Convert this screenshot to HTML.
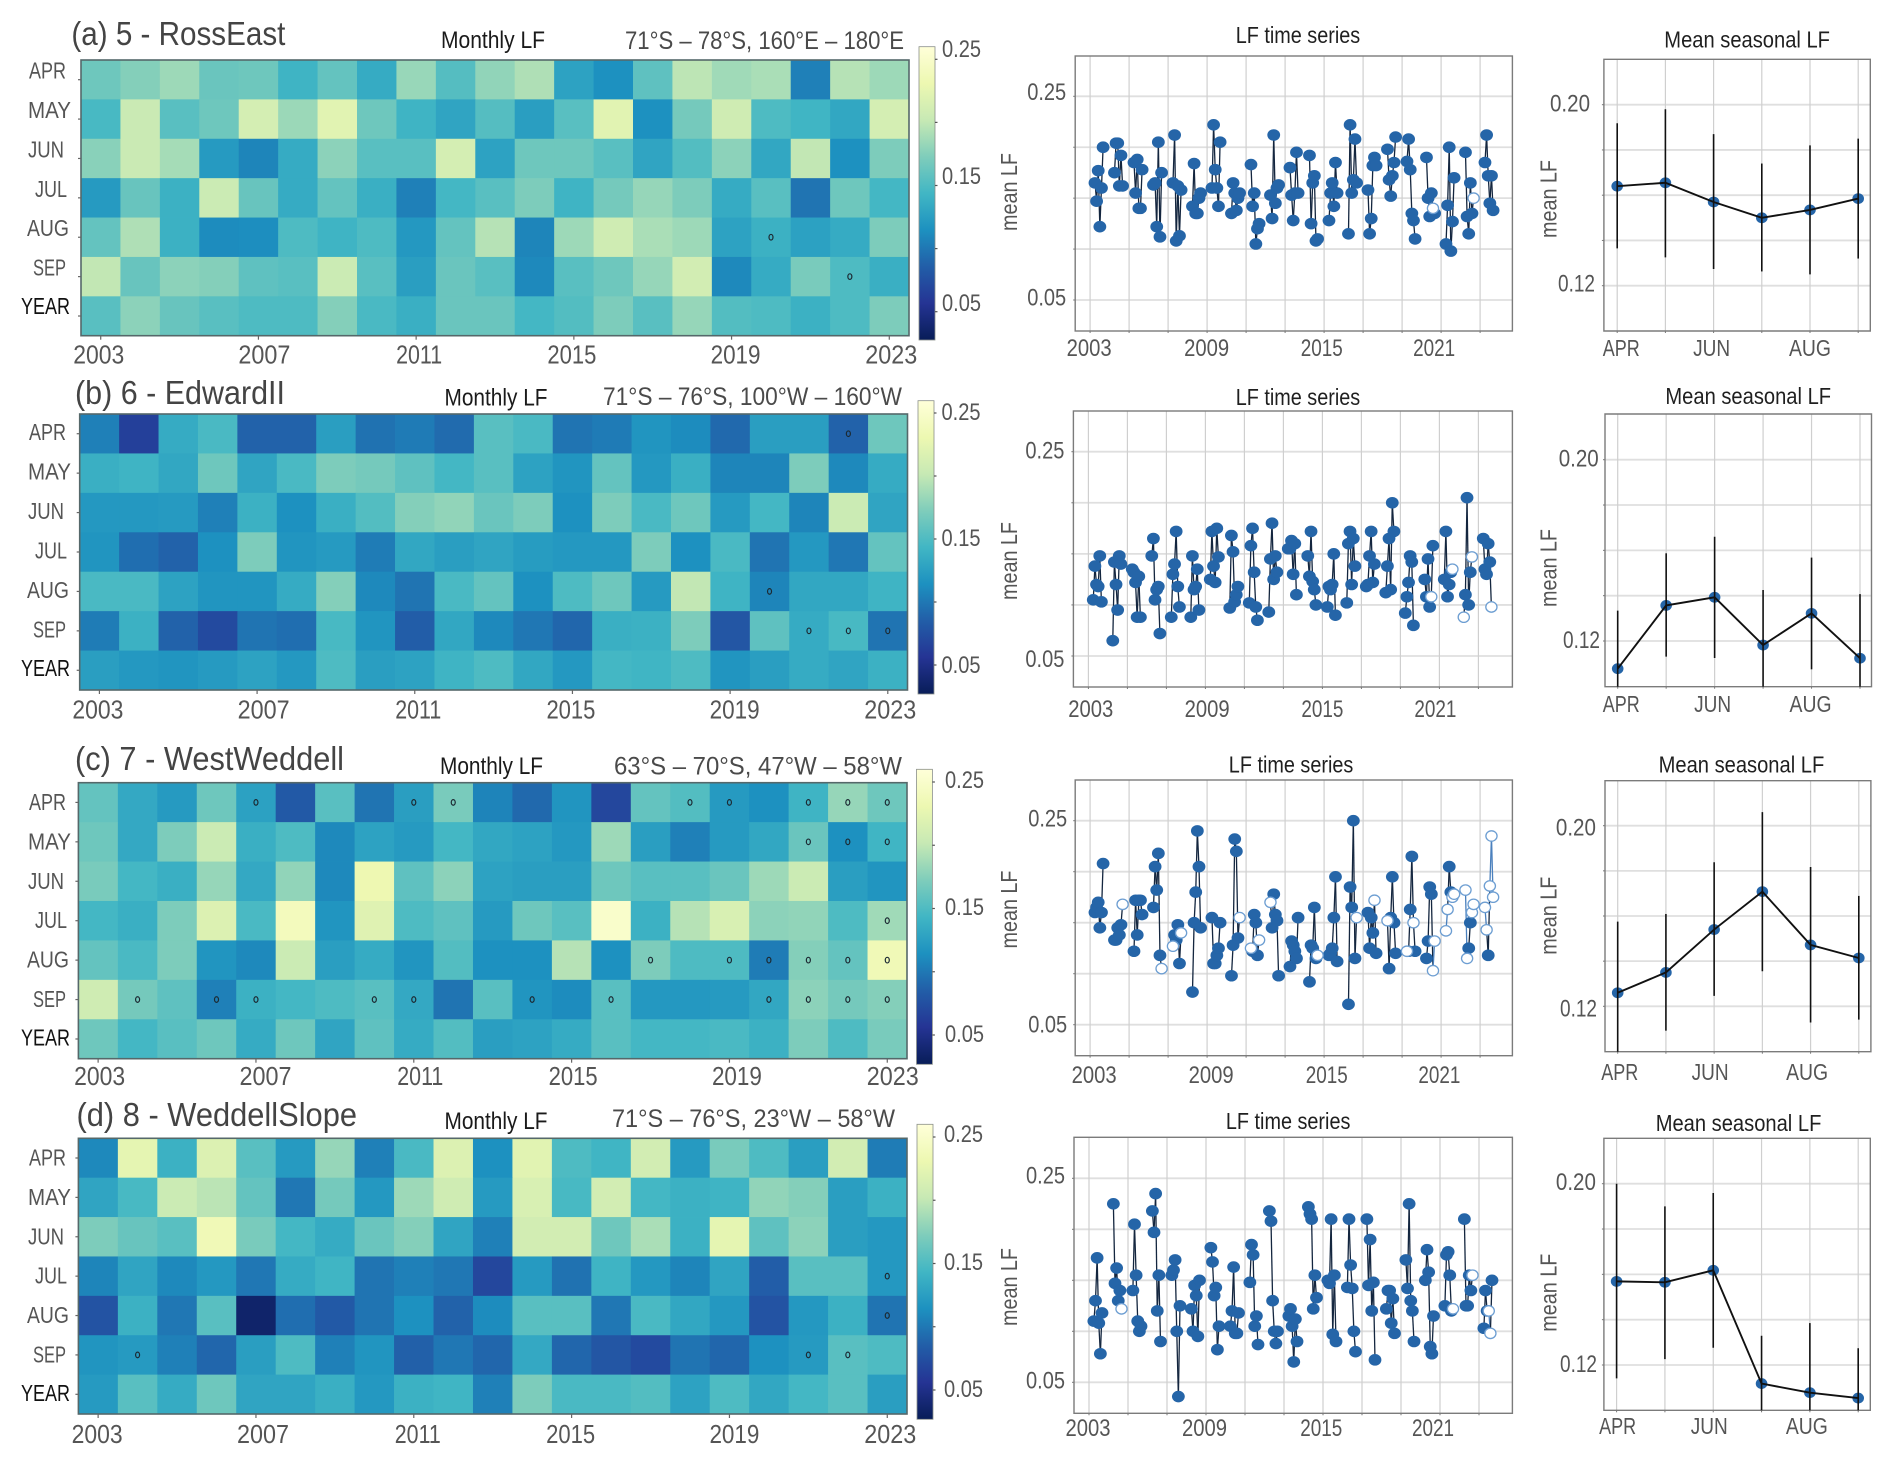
<!DOCTYPE html>
<html lang="en">
<head>
<meta charset="utf-8">
<title>Monthly LF by region</title>
<style>
html,body{margin:0;padding:0;background:#fff;}
svg{display:block;font-family:"Liberation Sans",Arial,sans-serif;}
.pt{font-size:33px;fill:#444;}
.mt{font-size:24px;fill:#1a1a1a;}
.rg{font-size:25px;fill:#4a4a4a;}
.tt{font-size:23px;fill:#1f1f1f;}
.yl{font-size:23px;fill:#555;text-anchor:middle;}
</style>
</head>
<body>
<svg id="fig" width="1892" height="1464" viewBox="0 0 1892 1464">
<defs>
<linearGradient id="cbGrad" x1="0" y1="1" x2="0" y2="0">
<stop offset="0" stop-color="#081d58"/><stop offset="0.125" stop-color="#253494"/>
<stop offset="0.25" stop-color="#225ea8"/><stop offset="0.375" stop-color="#1d91c0"/>
<stop offset="0.5" stop-color="#41b6c4"/><stop offset="0.625" stop-color="#7fcdbb"/>
<stop offset="0.75" stop-color="#c7e9b4"/><stop offset="0.875" stop-color="#edf8b1"/>
<stop offset="1" stop-color="#ffffd9"/>
</linearGradient>
</defs>
<g id="panel-a">
<text class="pt" x="71.4" y="45" textLength="214" lengthAdjust="spacingAndGlyphs">(a) 5 - RossEast</text>
<text class="mt" x="441" y="48" textLength="104" lengthAdjust="spacingAndGlyphs">Monthly LF</text>
<text class="rg" x="625" y="49" textLength="279" lengthAdjust="spacingAndGlyphs">71°S – 78°S, 160°E – 180°E</text>
<text class="tt" x="1235.7" y="43" textLength="124.5" lengthAdjust="spacingAndGlyphs">LF time series</text>
<text class="tt" x="1664.3" y="47.7" textLength="165.7" lengthAdjust="spacingAndGlyphs">Mean seasonal LF</text>
<text class="yl" transform="translate(1017 192) rotate(-90)" textLength="78" lengthAdjust="spacingAndGlyphs">mean LF</text>
<text class="yl" transform="translate(1556.7 199) rotate(-90)" textLength="78" lengthAdjust="spacingAndGlyphs">mean LF</text>
</g>
<g id="panel-b">
<text class="pt" x="75" y="404" textLength="210" lengthAdjust="spacingAndGlyphs">(b) 6 - EdwardII</text>
<text class="mt" x="444.5" y="405.7" textLength="103" lengthAdjust="spacingAndGlyphs">Monthly LF</text>
<text class="rg" x="603" y="405" textLength="299" lengthAdjust="spacingAndGlyphs">71°S – 76°S, 100°W – 160°W</text>
<text class="tt" x="1235.7" y="405" textLength="124.5" lengthAdjust="spacingAndGlyphs">LF time series</text>
<text class="tt" x="1665.4" y="404" textLength="165.7" lengthAdjust="spacingAndGlyphs">Mean seasonal LF</text>
<text class="yl" transform="translate(1017 561) rotate(-90)" textLength="78" lengthAdjust="spacingAndGlyphs">mean LF</text>
<text class="yl" transform="translate(1556.7 568) rotate(-90)" textLength="78" lengthAdjust="spacingAndGlyphs">mean LF</text>
</g>
<g id="panel-c">
<text class="pt" x="75" y="770" textLength="269" lengthAdjust="spacingAndGlyphs">(c) 7 - WestWeddell</text>
<text class="mt" x="440" y="774" textLength="103" lengthAdjust="spacingAndGlyphs">Monthly LF</text>
<text class="rg" x="614" y="774.7" textLength="288" lengthAdjust="spacingAndGlyphs">63°S – 70°S, 47°W – 58°W</text>
<text class="tt" x="1228.8" y="772.7" textLength="124.5" lengthAdjust="spacingAndGlyphs">LF time series</text>
<text class="tt" x="1658.6" y="772.7" textLength="165.7" lengthAdjust="spacingAndGlyphs">Mean seasonal LF</text>
<text class="yl" transform="translate(1017 909.5) rotate(-90)" textLength="78" lengthAdjust="spacingAndGlyphs">mean LF</text>
<text class="yl" transform="translate(1556.7 915.7) rotate(-90)" textLength="78" lengthAdjust="spacingAndGlyphs">mean LF</text>
</g>
<g id="panel-d">
<text class="pt" x="76.5" y="1126" textLength="280.5" lengthAdjust="spacingAndGlyphs">(d) 8 - WeddellSlope</text>
<text class="mt" x="444.5" y="1129" textLength="103" lengthAdjust="spacingAndGlyphs">Monthly LF</text>
<text class="rg" x="612" y="1127" textLength="283" lengthAdjust="spacingAndGlyphs">71°S – 76°S, 23°W – 58°W</text>
<text class="tt" x="1225.9" y="1129" textLength="124.5" lengthAdjust="spacingAndGlyphs">LF time series</text>
<text class="tt" x="1655.7" y="1131" textLength="165.7" lengthAdjust="spacingAndGlyphs">Mean seasonal LF</text>
<text class="yl" transform="translate(1017 1287) rotate(-90)" textLength="78" lengthAdjust="spacingAndGlyphs">mean LF</text>
<text class="yl" transform="translate(1556.7 1292.7) rotate(-90)" textLength="78" lengthAdjust="spacingAndGlyphs">mean LF</text>
</g>
</svg>
<script>
/* ---------- categories and tick labels ---------- */
const years = [2003,2004,2005,2006,2007,2008,2009,2010,2011,2012,2013,2014,2015,2016,2017,2018,2019,2020,2021,2022,2023];
const rowLabels = ['APR','MAY','JUN','JUL','AUG','SEP','YEAR'];
const heatYearTicks = [2003,2007,2011,2015,2019,2023];
const tsYearTicks = [2003,2009,2015,2021];
const seasonMonths = ['APR','MAY','JUN','JUL','AUG','SEP'];
const seasonLabels = ['APR','JUN','AUG'];
const cbTicks = [0.25,0.20,0.15,0.10,0.05];
const cbTickLabels = ['0.25','0.15','0.05'];
const tsGridValues = [0.05,0.10,0.15,0.20,0.25];
const tsTickLabels = ['0.25','0.05'];
const seasonGridValues = [0.12,0.14,0.16,0.18,0.20];
const seasonTickLabels = ['0.20','0.12'];

/* ---------- monthly LF values: rows APR..SEP then YEAR, columns 2003..2023 ---------- */
const lfA = [
[.165,.175,.185,.163,.165,.142,.160,.135,.183,.153,.180,.192,.128,.115,.158,.198,.186,.190,.105,.195,.185],
[.147,.204,.155,.165,.212,.184,.222,.165,.142,.130,.153,.125,.155,.222,.115,.168,.208,.150,.143,.132,.212],
[.177,.204,.188,.122,.108,.135,.178,.155,.155,.212,.128,.165,.165,.155,.130,.152,.178,.132,.200,.115,.172],
[.122,.162,.140,.205,.162,.135,.160,.138,.105,.145,.155,.172,.142,.168,.182,.172,.135,.155,.098,.165,.145],
[.160,.192,.140,.112,.113,.150,.142,.150,.120,.160,.195,.108,.185,.208,.190,.185,.128,.140,.127,.135,.172],
[.200,.162,.178,.175,.158,.155,.205,.155,.125,.163,.155,.110,.155,.165,.182,.210,.110,.135,.170,.150,.138],
[.155,.178,.162,.155,.150,.150,.175,.148,.138,.163,.163,.145,.152,.172,.155,.182,.152,.150,.140,.150,.172]];
const lfB = [
[.105,.065,.135,.148,.088,.088,.125,.097,.102,.093,.155,.148,.098,.102,.118,.112,.092,.125,.125,.088,.165],
[.138,.142,.132,.165,.130,.148,.172,.168,.158,.145,.155,.128,.118,.160,.120,.138,.108,.108,.172,.110,.135],
[.120,.120,.122,.105,.140,.115,.138,.152,.175,.180,.163,.172,.115,.172,.148,.165,.122,.145,.108,.205,.130],
[.118,.095,.088,.115,.172,.118,.122,.103,.132,.125,.130,.123,.120,.120,.172,.115,.148,.098,.120,.100,.160],
[.148,.148,.128,.118,.118,.135,.175,.110,.098,.148,.160,.115,.150,.165,.122,.200,.142,.108,.132,.132,.142],
[.103,.140,.088,.072,.098,.095,.147,.118,.085,.132,.110,.100,.090,.138,.140,.172,.080,.158,.135,.147,.098],
[.125,.120,.118,.122,.128,.120,.150,.125,.128,.142,.150,.132,.120,.145,.143,.150,.118,.125,.135,.130,.140]];
const lfC = [
[.160,.133,.122,.165,.127,.082,.155,.098,.125,.170,.107,.092,.118,.070,.160,.152,.122,.115,.142,.182,.165],
[.165,.133,.172,.205,.138,.150,.110,.128,.122,.145,.132,.128,.120,.185,.125,.105,.122,.132,.163,.115,.143],
[.170,.145,.138,.182,.133,.180,.110,.232,.158,.178,.128,.125,.125,.165,.155,.155,.163,.185,.205,.125,.118],
[.145,.138,.172,.218,.148,.240,.118,.220,.150,.158,.122,.165,.155,.250,.140,.195,.215,.178,.180,.150,.186],
[.160,.148,.172,.118,.110,.205,.125,.135,.118,.152,.115,.115,.195,.115,.172,.150,.150,.103,.175,.160,.235],
[.208,.168,.158,.105,.140,.145,.150,.155,.133,.098,.155,.118,.112,.155,.120,.120,.122,.132,.178,.168,.175],
[.165,.145,.155,.165,.135,.165,.130,.158,.135,.152,.125,.128,.135,.155,.145,.145,.148,.140,.172,.150,.170]];
const lfD = [
[.110,.225,.140,.218,.155,.122,.182,.105,.148,.218,.115,.222,.150,.143,.210,.122,.170,.150,.125,.210,.103],
[.130,.147,.205,.197,.160,.100,.168,.120,.185,.208,.122,.215,.147,.210,.145,.140,.142,.180,.175,.125,.140],
[.172,.162,.155,.235,.170,.145,.135,.163,.175,.130,.105,.210,.210,.165,.190,.140,.225,.158,.178,.125,.120],
[.108,.130,.110,.120,.100,.135,.143,.098,.105,.100,.070,.122,.097,.142,.120,.108,.130,.085,.155,.155,.120],
[.078,.140,.100,.155,.036,.095,.082,.098,.115,.088,.112,.155,.155,.100,.148,.132,.120,.078,.120,.140,.098],
[.118,.122,.105,.090,.125,.150,.105,.118,.087,.100,.090,.133,.090,.080,.072,.098,.090,.115,.122,.155,.150],
[.122,.155,.135,.165,.130,.130,.138,.120,.140,.143,.105,.172,.148,.148,.152,.128,.150,.132,.145,.155,.125]];

/* ---------- flagged cells: [row index, year index] ---------- */
const flagsA = [[4,17],[5,19]];
const flagsB = [[0,19],[4,17],[5,18],[5,19],[5,20]];
const flagsC = [[0,4],[0,8],[0,9],[0,15],[0,16],[0,18],[0,19],[0,20],[1,18],[1,19],[1,20],[3,20],[4,14],[4,16],[4,17],[4,18],[4,19],[4,20],[5,1],[5,3],[5,4],[5,7],[5,8],[5,11],[5,13],[5,17],[5,18],[5,19],[5,20]];
const flagsD = [[3,20],[4,20],[5,1],[5,18],[5,19]];

/* ---------- mean seasonal LF with error-bar limits (APR..SEP) ---------- */
const seasonMeanA = [.1640,.1655,.1570,.1500,.1535,.1585];
const seasonLowA  = [.1365,.1325,.1274,.1263,.1250,.1320];
const seasonHighA = [.1918,.1980,.1870,.1740,.1820,.1850];
const seasonMeanB = [.1078,.1357,.1393,.1182,.1322,.1124];
const seasonLowB  = [.0820,.1131,.1125,.0980,.1075,.0900];
const seasonHighB = [.1334,.1587,.1660,.1425,.1568,.1407];
const seasonMeanC = [.1260,.1350,.1540,.1708,.1472,.1414];
const seasonLowC  = [.0900,.1092,.1246,.1355,.1128,.1141];
const seasonHighC = [.1575,.1609,.1838,.2060,.1817,.1689];
const seasonMeanD = [.1569,.1565,.1618,.1118,.1078,.1054];
const seasonLowD  = [.1141,.1226,.1276,.0900,.0900,.0850];
const seasonHighD = [.2000,.1900,.1959,.1329,.1385,.1274];

/* ---------- colour map ---------- */
const cmap = ['#081d58','#253494','#225ea8','#1d91c0','#41b6c4','#7fcdbb','#c7e9b4','#edf8b1','#ffffd9'];
const vMin = 0.0275, vMax = 0.26;
function colorFor(v){
  let t = Math.max(0, Math.min(1, (v - vMin) / (vMax - vMin))) * (cmap.length - 1);
  const i = Math.min(cmap.length - 2, Math.floor(t)); t -= i;
  const c0 = parseInt(cmap[i].slice(1), 16), c1 = parseInt(cmap[i + 1].slice(1), 16);
  const ch = s => Math.round(((c0 >> s) & 255) * (1 - t) + ((c1 >> s) & 255) * t);
  return 'rgb(' + ch(16) + ',' + ch(8) + ',' + ch(0) + ')';
}

/* ---------- layout of each panel (pixels of the page, not data) ---------- */
const panels = [
 {id:'a', lf:lfA, flags:flagsA, sm:seasonMeanA, sl:seasonLowA, sh:seasonHighA,
  hL:81, hR:909, hT:60, hB:335.7, rowDy:-1, hxShift:2, hxBase:363.5,
  cL:919, cR:935, cT:46.7, cB:340, c25:59.3, c05:311.7, cbX:942, cbBase:[57,184,311],
  tL:1075.2, tR:1512.4, tT:56, tB:331, y25:96.3, y05:300, x03:1090.1, tLabX:[-1,-.5,-2.3,-7], txBase:356, tyLabDx:-9, tyDy:[3.7,5.5],
  sL:1603.9, sR:1870.3, sT:59.3, sB:331, y20:104.7, y12:285.7, xApr:1617.2, xSep:1858.2, sLabX:[4,-2,0], sxBase:356, syR:[1590,1595], syDy:[7,6]},
 {id:'b', lf:lfB, flags:flagsB, sm:seasonMeanB, sl:seasonLowB, sh:seasonHighB,
  hL:79.7, hR:907.5, hT:414, hB:690, rowDy:6.5, hxShift:2.5, hxBase:718.5,
  cL:918, cR:934, cT:400.7, cB:694, c25:413, c05:665, cbX:941.5, cbBase:[420,546,673],
  tL:1073.4, tR:1512.4, tT:411, tB:687, y25:451.7, y05:656, x03:1088.4, tLabX:[2.3,1.7,0,-4], txBase:717, tyLabDx:-9, tyDy:[7,11],
  sL:1605, sR:1871.5, sT:414, sB:686.7, y20:459.7, y12:641, xApr:1617.7, xSep:1860, sLabX:[3.5,-2,-1], sxBase:712, syR:[1598.7,1600], syDy:[7,7]},
 {id:'c', lf:lfC, flags:flagsC, sm:seasonMeanC, sl:seasonLowC, sh:seasonHighC,
  hL:78.4, hR:907, hT:782.7, hB:1058.7, rowDy:7.5, hxShift:5.5, hxBase:1085,
  cL:916.5, cR:932.4, cT:769.3, cB:1064.3, c25:782, c05:1035, cbX:945, cbBase:[788,915,1042],
  tL:1075.2, tR:1512.4, tT:780, tB:1055.7, y25:820.7, y05:1024.7, x03:1090.1, tLabX:[4,4,2.6,-1.7], txBase:1083, tyLabDx:-8, tyDy:[6,8],
  sL:1605, sR:1870.9, sT:780.7, sB:1051.7, y20:825.7, y12:1006.3, xApr:1617.7, xSep:1858.8, sLabX:[2,-4,-3.5], sxBase:1080, syR:[1595.9,1597], syDy:[10,10]},
 {id:'d', lf:lfD, flags:flagsD, sm:seasonMeanD, sl:seasonLowD, sh:seasonHighD,
  hL:78.4, hR:907, hT:1138.3, hB:1414, rowDy:7.5, hxShift:3, hxBase:1443,
  cL:917, cR:933, cT:1124.3, cB:1419.3, c25:1137, c05:1390, cbX:944, cbBase:[1142,1270,1397],
  tL:1074, tR:1512.4, tT:1137.3, tB:1413.3, y25:1178.3, y05:1382.3, x03:1089, tLabX:[-1,-1.5,-1.7,-7], txBase:1436, tyLabDx:-9, tyDy:[5,6],
  sL:1603.9, sR:1870.3, sT:1138.3, sB:1410.3, y20:1183.7, y12:1365, xApr:1616.6, xSep:1858.2, sLabX:[1,-4,-3], sxBase:1434, syR:[1595.9,1597], syDy:[6.3,7]}
];
const heatLabNudge = [-4,4,1,-4,2,0];
const heatLabW = [51,52,46,49,50,52];
const rowLabRight = [66,71,64,67,69,66,70];
const rowLabW = [37,43,36,32,42,33,49];
const tsLabW = [45,45,42,42];
const seasonLabW = [37,37,42];

const svg = document.getElementById('fig');
function add(parent, tag, name, attrs){
  const el = document.createElementNS(svg.namespaceURI, tag);
  
  
  for (const k in attrs) el.setAttribute(k, attrs[k]);
  parent.appendChild(el);
  return el;
}
function line(p, name, x1, y1, x2, y2, stroke, w){
  return add(p, 'line', name, {x1:x1, y1:y1, x2:x2, y2:y2, stroke:stroke, 'stroke-width':w});
}
function label(p, name, x, y, str, size, width, fill, anchor){
  const t = add(p, 'text', name, {x:x, y:y, 'font-size':size, fill:fill, 'text-anchor':anchor || 'middle', textLength:width, lengthAdjust:'spacingAndGlyphs'});
  t.textContent = str;
  return t;
}

panels.forEach(function(P){
  const root = document.getElementById('panel-' + P.id);

  /* heatmap */
  const heat = add(root, 'g', 'heatmap', {});
  const cw = (P.hR - P.hL) / years.length, ch = (P.hB - P.hT) / rowLabels.length;
  const hx = i => P.hL + cw * i, hy = r => P.hT + ch * r;
  P.lf.forEach(function(row, r){
    row.forEach(function(v, i){
      add(heat, 'rect', 'heat-cell-' + rowLabels[r].toLowerCase() + '-' + years[i], {x:hx(i), y:hy(r), width:cw + .4, height:ch + .4, fill:colorFor(v)});
    });
  });
  P.flags.forEach(function(f){
    add(heat, 'ellipse', 'heat-flag', {cx:hx(f[1]) + cw / 2, cy:hy(f[0]) + ch / 2, rx:2, ry:2.8, fill:'none', stroke:'#1c2a33', 'stroke-width':1.2});
  });
  add(heat, 'rect', 'heatmap-frame', {x:P.hL, y:P.hT, width:P.hR - P.hL, height:P.hB - P.hT, fill:'none', stroke:'#55686a', 'stroke-width':1.6});
  rowLabels.forEach(function(l, r){
    const yc = hy(r) + ch / 2;
    line(heat, 'row-tick', P.hL - 3, yc, P.hL, yc, '#666', 1.2);
    label(heat, 'row-label', rowLabRight[r], yc + P.rowDy - (r === 6 ? 1 : 0), l, 23, rowLabW[r], r === 6 ? '#111' : '#555', 'end');
  });
  heatYearTicks.forEach(function(y, k){
    const x = hx(years.indexOf(y)) + cw / 2;
    line(heat, 'year-tick', x, P.hB, x, P.hB + 4, '#666', 1.2);
    label(heat, 'year-label', x + heatLabNudge[k] + P.hxShift, P.hxBase, String(y), 26, heatLabW[k], '#555');
  });

  /* colourbar */
  const cb = add(root, 'g', 'colorbar', {});
  add(cb, 'rect', 'colorbar-ramp', {x:P.cL, y:P.cT, width:P.cR - P.cL, height:P.cB - P.cT, fill:'url(#cbGrad)', stroke:'#8a8f8a', 'stroke-width':.8});
  const cy = v => P.c05 + (v - 0.05) / 0.20 * (P.c25 - P.c05);
  cbTicks.forEach(function(v){
    line(cb, 'colorbar-tick', P.cR, cy(v), P.cR + 2.5, cy(v), '#555', 1.2);
  });
  cbTickLabels.forEach(function(s, k){
    label(cb, 'colorbar-label', P.cbX, P.cbBase[k], s, 24, 39, '#555', 'start');
  });

  /* time series */
  const ts = add(root, 'g', 'time-series', {});
  const tx = t => P.x03 + (t - 2003) * 19.5;
  const ty = v => P.y05 + (v - 0.05) / 0.20 * (P.y25 - P.y05);
  tsGridValues.forEach(function(v){
    line(ts, 'ts-grid-h', P.tL, ty(v), P.tR, ty(v), '#dfdfdf', 1.8);
    line(ts, 'ts-tick-y', P.tL - 2, ty(v), P.tL, ty(v), '#777', 1);
  });
  for (let k = 2003; k <= 2023; k += 2){
    line(ts, 'ts-grid-v', tx(k), P.tT, tx(k), P.tB, '#cfcfcf', 1.2);
    line(ts, 'ts-tick-x', tx(k), P.tB, tx(k), P.tB + 2, '#777', 1);
  }
  add(ts, 'rect', 'ts-frame', {x:P.tL, y:P.tT, width:P.tR - P.tL, height:P.tB - P.tT, fill:'none', stroke:'#7b7b7b', 'stroke-width':1.4});
  tsTickLabels.forEach(function(s, k){
    label(ts, 'ts-y-label', P.tL + P.tyLabDx, ty(parseFloat(s)) + P.tyDy[k], s, 24, 39, '#555', 'end');
  });
  tsYearTicks.forEach(function(y, k){
    label(ts, 'ts-x-label', tx(y) + P.tLabX[k], P.txBase, String(y), 24, tsLabW[k], '#555');
  });
  const isFlag = (r, i) => P.flags.some(f => f[0] === r && f[1] === i);
  const tPos = (r, i) => [tx(years[i] + (r + 3) / 12), ty(P.lf[r][i])];
  years.forEach(function(y, i){
    for (let r = 0; r < 5; r++){
      const a = tPos(r, i), b = tPos(r + 1, i);
      const soft = isFlag(r, i) && isFlag(r + 1, i);
      line(ts, 'ts-segment', a[0], a[1], b[0], b[1], soft ? '#4a80bd' : '#14263f', 1.3);
    }
  });
  years.forEach(function(y, i){
    for (let r = 0; r < 6; r++){
      const a = tPos(r, i);
      if (isFlag(r, i)) continue;
      add(ts, 'ellipse', 'ts-point', {cx:a[0], cy:a[1], rx:6.4, ry:5.8, fill:'#2565a8'});
    }
  });
  years.forEach(function(y, i){
    for (let r = 0; r < 6; r++){
      const a = tPos(r, i);
      if (!isFlag(r, i)) continue;
      add(ts, 'ellipse', 'ts-point-flagged', {cx:a[0], cy:a[1], rx:5.6, ry:5.2, fill:'#fff', stroke:'#6d9ed2', 'stroke-width':1.3});
    }
  });

  /* seasonal */
  const se = add(root, 'g', 'seasonal', {});
  const sx = i => P.xApr + i * (P.xSep - P.xApr) / 5;
  const sy = v => P.y12 + (v - 0.12) / 0.08 * (P.y20 - P.y12);
  seasonGridValues.forEach(function(v){
    line(se, 'seasonal-grid-h', P.sL, sy(v), P.sR, sy(v), '#dfdfdf', 1.8);
    line(se, 'seasonal-tick-y', P.sL - 2, sy(v), P.sL, sy(v), '#777', 1);
  });
  seasonMonths.forEach(function(m, i){
    line(se, 'seasonal-grid-v', sx(i), P.sT, sx(i), P.sB, '#cfcfcf', 1.2);
    line(se, 'seasonal-tick-x', sx(i), P.sB, sx(i), P.sB + 2, '#777', 1);
  });
  add(se, 'path', 'seasonal-frame', {d:'M' + P.sL + ' ' + P.sB + 'V' + P.sT + 'H' + P.sR + 'V' + P.sB + 'Z', fill:'none', stroke:'#7b7b7b', 'stroke-width':1.4});
  seasonTickLabels.forEach(function(s, k){
    label(se, 'seasonal-y-label', P.syR[k], sy(parseFloat(s)) + P.syDy[k], s, 24, k ? 37 : 40, '#555', 'end');
  });
  seasonLabels.forEach(function(m, k){
    label(se, 'seasonal-x-label', sx(seasonMonths.indexOf(m)) + P.sLabX[k], P.sxBase, m, 23, seasonLabW[k], '#555');
  });
  P.sm.forEach(function(v, i){
    add(se, 'ellipse', 'seasonal-point', {cx:sx(i), cy:sy(v), rx:5.8, ry:5.4, fill:'#2565a8'});
  });
  P.sm.forEach(function(v, i){
    const lo = Math.min(P.sB, sy(P.sl[i])), hi = sy(P.sh[i]);
    line(se, 'seasonal-error-bar', sx(i), lo, sx(i), hi, '#111', 1.6);
  });
  const pts = P.sm.map((v, i) => sx(i) + ',' + sy(v)).join(' ');
  add(se, 'polyline', 'seasonal-line', {points:pts, fill:'none', stroke:'#111', 'stroke-width':1.9});
});
</script>
</body>
</html>
